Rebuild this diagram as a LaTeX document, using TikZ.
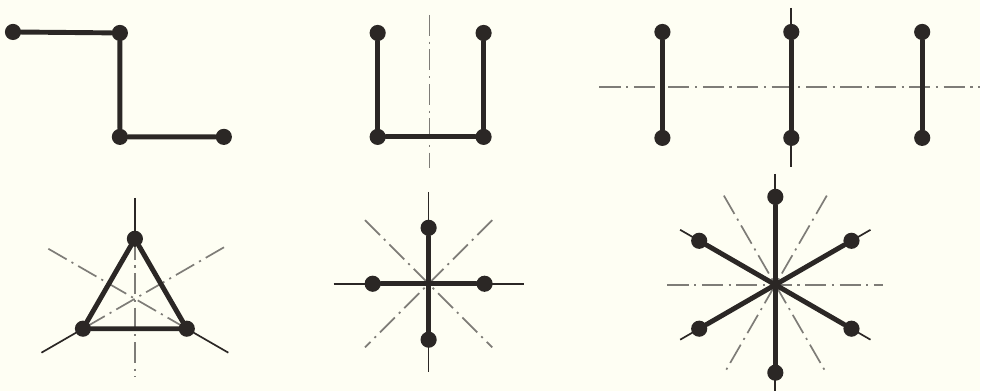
\documentclass[tikz,border=0pt]{standalone}
\usepackage{tikz}
\usetikzlibrary{calc,backgrounds}
\definecolor{paper}{HTML}{FEFEF3}
\definecolor{ink}{HTML}{2B2725}
\definecolor{muted}{HTML}{7E7C77}

\begin{document}
\begin{tikzpicture}[x=0.025cm,y=0.025cm,
    atom/.style={circle,fill=ink,inner sep=0pt,minimum size=11.5pt},
    bond/.style={ink,line width=3.5pt,line cap=round},
    guide/.style={ink,line width=1.2pt},
    symaxis/.style={muted,line width=1.2pt,dash pattern=on 15pt off 4pt on 1.5pt off 4pt}]
  \begin{scope}[on background layer]
    \fill[paper] (0,0) rectangle (981,391);
  \end{scope}
  % top row: Z, U and three dumbbells
  \node[atom] (z1) at (13,359) {};
  \node[atom] (z2) at (120,358) {};
  \node[atom] (z3) at (120,254) {};
  \node[atom] (z4) at (224,254) {};
  \draw[bond] (z1) -- (z2) -- (z3) -- (z4);
  \node[atom] (u1) at (378,358) {};
  \node[atom] (u2) at (378,254) {};
  \node[atom] (u3) at (484,254) {};
  \node[atom] (u4) at (484,358) {};
  \draw[bond] (u1) -- (u2) -- (u3) -- (u4);
  \foreach \x [count=\i] in {663,792,923}{
    \node[atom] (top\i) at (\x,359) {};
    \node[atom] (bot\i) at (\x,253) {};
    \draw[bond] (top\i) -- (bot\i);
  }
  % bottom row: triangle, cross and star
  \coordinate (tc) at (135,92);
  \foreach \a/\n in {90/t1,210/t2,330/t3}
    \node[atom] (\n) at ($(tc)+(\a:60)$) {};
  \draw[bond] (t1) -- (t2) -- (t3) -- (t1);
  \coordinate (cc) at (429,107);
  \foreach \a [count=\i] in {0,90,180,270}{
    \node[atom] (c\i) at ($(cc)+(\a:56)$) {};
    \draw[bond] (cc) -- (c\i);
  }
  \coordinate (sc) at (776,106);
  \foreach \a [count=\i] in {90,30,-30,-90,-150,150}{
    \node[atom] (s\i) at ($(sc)+(\a:88)$) {};
    \draw[bond] (sc) -- (s\i);
  }
  \begin{scope}[on background layer]
    \draw[symaxis] (430,376) -- (430,223);
    \draw[symaxis] (600,304) -- (981,304);
    \draw[guide] (792,383) -- (792,224);
    \draw[guide] ($(tc)+(0,101)$) -- (t1.center);
    \draw[symaxis] (t1.center) -- ($(tc)+(0,-78)$);
    \draw[symaxis] ($(tc)+(150:100)$) -- (t3.center);
    \draw[guide] (t3.center) -- ($(tc)+(-30:108)$);
    \draw[symaxis] ($(tc)+(30:103)$) -- (t2.center);
    \draw[guide] (t2.center) -- ($(tc)+(210:108)$);
    \draw[guide] ($(cc)+(-95,0)$) -- ($(cc)+(95,0)$);
    \draw[guide] ($(cc)+(0,92)$) -- ($(cc)+(0,-88)$);
    \foreach \a in {45,135}
      \draw[symaxis] ($(cc)+(\a:90)$) -- ($(cc)+(\a+180:90)$);
    \draw[guide] (776,217) -- (776,0);
    \foreach \a in {30,150,210,330}
      \draw[guide] (sc) -- ($(sc)+(\a:110)$);
    \draw[symaxis] ($(sc)+(-108,0)$) -- ($(sc)+(108,0)$);
    \foreach \a in {60,120}
      \draw[symaxis] ($(sc)+(\a:103)$) -- ($(sc)+(\a+180:103)$);
  \end{scope}
\end{tikzpicture}
\end{document}
